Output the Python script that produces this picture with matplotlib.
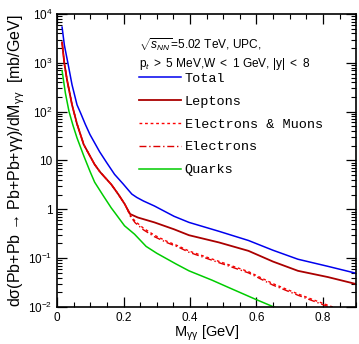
import matplotlib
matplotlib.use("Agg")
import matplotlib.pyplot as plt
from matplotlib.ticker import MultipleLocator, FuncFormatter, LogLocator, NullFormatter

plt.rcParams['font.family'] = ['Liberation Sans', 'DejaVu Sans']
plt.rcParams['mathtext.fontset'] = 'custom'
plt.rcParams['mathtext.rm'] = 'Liberation Sans'
plt.rcParams['mathtext.it'] = 'Liberation Sans:italic'
plt.rcParams['mathtext.sf'] = 'Liberation Sans'

# invariant mass [GeV] and cross sections [mb/GeV]
m_total = [0.015, 0.022, 0.033, 0.045, 0.060, 0.071, 0.085, 0.099, 0.128, 0.149,
           0.173, 0.199, 0.213, 0.225, 0.240, 0.260, 0.293, 0.352, 0.397, 0.487,
           0.576, 0.650, 0.725, 0.815, 0.900]
total = [5400, 2290, 955, 355, 138, 93, 55, 34, 15.1, 9.1,
         5.2, 3.3, 2.55, 2.05, 1.75, 1.48, 1.17, 0.72, 0.54, 0.355,
         0.23, 0.145, 0.095, 0.068, 0.049]

m_lept = [0.015, 0.022, 0.030, 0.045, 0.060, 0.080, 0.100, 0.113, 0.130, 0.163,
          0.185, 0.203, 0.212, 0.220, 0.243, 0.293, 0.352, 0.397, 0.487, 0.576,
          0.650, 0.725, 0.815, 0.900]
leptons = [2630, 955, 447, 138, 56, 21.4, 12.0, 8.3, 5.75, 3.24,
           2.0, 1.30, 1.0, 0.80, 0.68, 0.54, 0.39, 0.295, 0.21, 0.141,
           0.085, 0.055, 0.041, 0.0295]

m_el = [0.015, 0.022, 0.030, 0.045, 0.060, 0.080, 0.100, 0.113, 0.130, 0.163,
        0.185, 0.203, 0.212, 0.220, 0.235, 0.260, 0.293, 0.330, 0.367, 0.397,
        0.487, 0.576, 0.650, 0.725, 0.795, 0.860]
el_mu = [2630, 955, 447, 138, 56, 21.4, 12.0, 8.3, 5.75, 3.24,
         2.0, 1.30, 1.0, 0.76, 0.57, 0.41, 0.295, 0.222, 0.175, 0.14,
         0.086, 0.053, 0.030, 0.0185, 0.0122, 0.0084]
electrons = [2630, 955, 447, 138, 56, 21.4, 12.0, 8.3, 5.75, 3.24,
             2.0, 1.30, 0.98, 0.73, 0.53, 0.38, 0.275, 0.209, 0.166, 0.132,
             0.081, 0.050, 0.028, 0.0174, 0.0115, 0.0079]

m_quark = [0.015, 0.025, 0.036, 0.048, 0.060, 0.080, 0.099, 0.113, 0.139, 0.163,
           0.174, 0.203, 0.233, 0.268, 0.300, 0.358, 0.397, 0.466, 0.516, 0.596,
           0.660]
quarks = [692, 240, 100, 52, 29, 12.6, 6.0, 3.6, 1.9, 1.07,
          0.85, 0.46, 0.31, 0.174, 0.126, 0.076, 0.055, 0.0355, 0.0251, 0.0145,
          0.0095]

ytick_vals = [1e-2, 1e-1, 1, 10, 1e2, 1e3, 1e4]
ytick_text = ['10$^{-2}$', '10$^{-1}$', '1', '10', '10$^{2}$', '10$^{3}$', '10$^{4}$']

fig = plt.figure(figsize=(3.59, 3.44), dpi=100)
ax = fig.add_axes([0.159, 0.1076, 0.833, 0.8517])

ax.plot(m_total, total, color='#0000ee', lw=1.1, label='Total')
ax.plot(m_lept, leptons, color='#aa0000', lw=1.3, label='Leptons')
ax.plot(m_el, el_mu, color='#ff0000', lw=1.0, ls=(0, (2, 2)), label='Electrons & Muons')
ax.plot(m_el, electrons, color='#dd0000', lw=1.0, ls=(0, (5, 2, 1, 2)), label='Electrons')
ax.plot(m_quark, quarks, color='#00cc00', lw=1.1, label='Quarks')

ax.set_yscale('log')
ax.set_xlim(0, 0.9)
ax.set_ylim(1e-2, 1e4)

ax.xaxis.set_major_locator(MultipleLocator(0.2))
ax.xaxis.set_minor_locator(MultipleLocator(0.05))
ax.xaxis.set_major_formatter(FuncFormatter(lambda v, p: '%g' % round(v, 2)))
ax.set_yticks(ytick_vals)
ax.set_yticklabels(ytick_text)
ax.yaxis.set_minor_locator(LogLocator(base=10, subs=range(2, 10), numticks=20))
ax.yaxis.set_minor_formatter(NullFormatter())

ax.tick_params(which='both', direction='in', top=True, right=True, labelsize=8.5, pad=3.5)
ax.tick_params(which='major', length=7, width=0.9)
ax.tick_params(which='minor', length=3.5, width=0.8)
for s in ax.spines.values():
    s.set_linewidth(1.2)

ax.set_xlabel(r'M$_{\mathrm{γγ}}$ [GeV]', fontsize=10.5, labelpad=0)
ax.set_ylabel(r'dσ(Pb+Pb → Pb+Pb+γγ)/dM$_{\mathrm{γγ}}$  [mb/GeV]', fontsize=11.5, labelpad=1)

ax.text(0.274, 0.88, r'$\sqrt{s_{NN}}$=5.02 TeV, UPC,', transform=ax.transAxes, fontsize=8.6)
ax.text(0.274, 0.818, r'p$_{t}$ $>$ 5 MeV,W $<$ 1 GeV, |y| $<$ 8', transform=ax.transAxes,
        fontsize=8.6)

ax.legend(loc='upper left', bbox_to_anchor=(0.274, 0.80), frameon=False,
          prop={'family': 'Liberation Mono', 'size': 9.7}, handlelength=3.1,
          handletextpad=0.3, labelspacing=0.77, borderpad=0, borderaxespad=0)

fig.savefig('out.png', dpi=100)
